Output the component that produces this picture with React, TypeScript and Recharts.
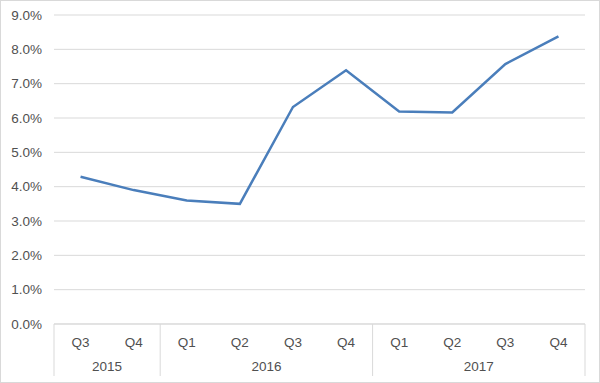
import { CartesianGrid, Line, LineChart, XAxis, YAxis } from 'recharts'

const quarters = ['Q3', 'Q4', 'Q1', 'Q2', 'Q3', 'Q4', 'Q1', 'Q2', 'Q3', 'Q4']
const years = ['2015', '2015', '2016', '2016', '2016', '2016', '2017', '2017', '2017', '2017']
const rates = [0.0429, 0.039, 0.036, 0.035, 0.0632, 0.0739, 0.0619, 0.0616, 0.0757, 0.0838]
const yTicks = [0, 0.01, 0.02, 0.03, 0.04, 0.05, 0.06, 0.07, 0.08, 0.09]

const data = quarters.map((q, i) => ({ key: `${years[i]}-${q}-${i}`, q, year: years[i], rate: rates[i] }))

const W = 598
const H = 381
const M = { top: 14, right: 14, bottom: 0, left: 0 }
const Y_W = 53
const X_H = 58
const band = (W - M.left - M.right - Y_W) / data.length
const grey = '#d9d9d9'
const textColor = '#505050'
const font = '"Liberation Sans", Arial, sans-serif'
const fs = 13.5

function GroupTick(props: any) {
  const { x, y, index } = props
  const row = data[index]
  const first = index === 0 || data[index - 1].year !== row.year
  const last = index === data.length - 1
  const groupSize = data.filter((d) => d.year === row.year).length
  return (
    <g>
      <text x={x} y={y + 23} textAnchor="middle" fill={textColor} fontSize={fs} fontFamily={font}>
        {row.q}
      </text>
      {first && (
        <>
          <line x1={x - band / 2} x2={x - band / 2} y1={y} y2={y + 52} stroke={grey} />
          <text
            x={x - band / 2 + (groupSize * band) / 2}
            y={y + 47}
            textAnchor="middle"
            fill={textColor}
            fontSize={fs}
            fontFamily={font}
          >
            {row.year}
          </text>
        </>
      )}
      {last && <line x1={x + band / 2} x2={x + band / 2} y1={y} y2={y + 52} stroke={grey} />}
    </g>
  )
}

export default function App() {
  return (
    <>
      <style>{`body{margin:0}`}</style>
      <div
        style={{
          width: 600,
          height: 383,
          boxSizing: 'border-box',
          border: `1px solid ${grey}`,
          background: '#fff',
        }}
      >
        <LineChart width={W} height={H} data={data} margin={M}>
          <CartesianGrid vertical={false} stroke={grey} />
          <XAxis
            dataKey="key"
            height={X_H}
            interval={0}
            padding={{ left: band / 2, right: band / 2 }}
            tickLine={false}
            tickSize={0}
            tickMargin={0}
            axisLine={{ stroke: grey }}
            tick={<GroupTick />}
          />
          <YAxis
            width={Y_W}
            domain={[0, 0.09]}
            ticks={yTicks}
            axisLine={false}
            tickLine={false}
            tickSize={0}
            tickMargin={12}
            tickFormatter={(v: number) => `${(v * 100).toFixed(1)}%`}
            tick={{ fill: textColor, fontSize: fs, fontFamily: font }}
          />
          <Line
            dataKey="rate"
            stroke="#4a7ebb"
            strokeWidth={2.5}
            dot={false}
            isAnimationActive={false}
          />
        </LineChart>
      </div>
    </>
  )
}
